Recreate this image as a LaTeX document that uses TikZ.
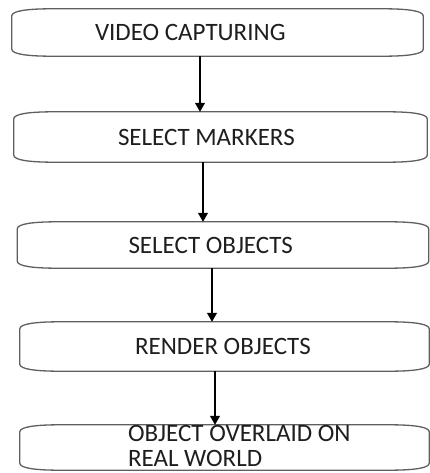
\documentclass[tikz,border=0pt]{standalone}
\usepackage{fontspec}
\setmainfont{Carlito}
\usetikzlibrary{positioning,arrows.meta}
\definecolor{boxgray}{RGB}{95,95,95}
\definecolor{inkgray}{RGB}{30,30,30}
\tikzset{
  stage/.style={draw=none, inner sep=0pt},
  stagetext/.style={anchor=west, inner sep=0pt, align=left, text=inkgray,
                    font=\fontsize{25}{25}\selectfont},
  boxline/.style={draw=boxgray, line width=1.3pt},
  flow/.style={draw=black, line width=1.1pt, -{Triangle[width=10pt,length=9pt]}}
}
\newcommand{\scrollbox}[1]{\draw[boxline]
    ([yshift=-7pt]#1.north west) .. controls +(0,5pt) and +(-24pt,0) .. ([xshift=40pt]#1.north west)
    -- ([xshift=-40pt]#1.north east) .. controls +(24pt,0) and +(0,5pt) .. ([yshift=-7pt]#1.north east)
    -- ([yshift=7pt]#1.south east) .. controls +(0,-5pt) and +(24pt,0) .. ([xshift=-40pt]#1.south east)
    -- ([xshift=40pt]#1.south west) .. controls +(-24pt,0) and +(0,-5pt) .. ([yshift=7pt]#1.south west)
    -- cycle;}

\begin{document}
\begin{tikzpicture}[x=1pt,y=-1pt]
  \useasboundingbox (0,0) rectangle (430,473);

  % boxes
  \node[stage, minimum width=411pt, minimum height=47pt] (capture) at (217.5,32.5) {};
  \node[stage, minimum width=413pt, minimum height=50pt] (markers) at (220.5,137) {};
  \node[stage, minimum width=411pt, minimum height=46pt] (objects) at (223,245) {};
  \node[stage, minimum width=409pt, minimum height=49pt] (render) at (224.5,346.5) {};
  \node[stage, minimum width=409pt, minimum height=45pt] (overlay) at (224.5,447.5) {};

  \scrollbox{capture}
  \scrollbox{markers}
  \scrollbox{objects}
  \scrollbox{render}
  \scrollbox{overlay}

  % labels
  \node[stagetext] (captureT) at ([xshift=83pt]capture.west) {VIDEO CAPTURING};
  \node[stagetext] (markersT) at ([xshift=104pt]markers.west) {SELECT MARKERS};
  \node[stagetext] (objectsT) at ([xshift=111pt]objects.west) {SELECT OBJECTS};
  \node[stagetext] (renderT) at ([xshift=115pt]render.west) {RENDER OBJECTS};
  \node[stagetext] (overlayT) at ([xshift=108pt,yshift=2pt]overlay.west) {OBJECT OVERLAID ON\\REAL WORLD};

  % arrows
  \draw[flow] ([xshift=-17.5pt]capture.south) -- ([xshift=-17.5pt]capture.south |- markers.north);
  \draw[flow] ([xshift=-17.5pt]markers.south) -- ([xshift=-17.5pt]markers.south |- objects.north);
  \draw[flow] ([xshift=-11pt]objects.south) -- ([xshift=-11pt]objects.south |- render.north);
  \draw[flow] ([xshift=-9.5pt]render.south) -- ([xshift=-9.5pt]render.south |- overlay.north);
\end{tikzpicture}
\end{document}
